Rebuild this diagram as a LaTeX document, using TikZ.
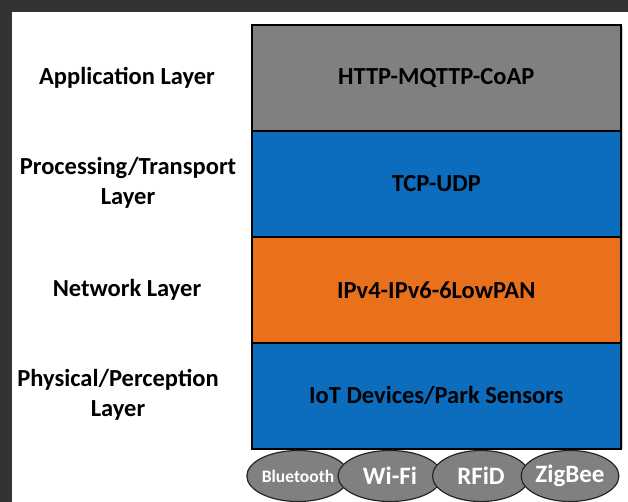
\documentclass[tikz,border=0pt]{standalone}
\usepackage{fontspec}
\setmainfont{Carlito}
\usetikzlibrary{shapes.geometric}
\definecolor{frame}{RGB}{52,50,52}
\definecolor{laygray}{RGB}{128,128,128}
\definecolor{layblue}{RGB}{12,108,189}
\definecolor{layorange}{RGB}{234,113,28}
\begin{document}
\begin{tikzpicture}[x=1pt,y=-1pt,
  layerbox/.style={draw=black,line width=1.6pt,minimum width=369pt,minimum height=106pt,inner sep=0pt,anchor=north west,font=\bfseries\fontsize{24.5}{28}\selectfont,text=black},
  sidelabel/.style={font=\bfseries\fontsize{24.5}{30}\selectfont,align=center,text=black,inner sep=0pt},
  tech/.style={ellipse,draw=black!85,line width=1.2pt,fill=laygray,minimum width=97pt,minimum height=51pt,inner sep=0pt,text=white,font=\bfseries\fontsize{25}{27}\selectfont}]
\useasboundingbox (0,0) rectangle (628,502);
\fill[white] (0,0) rectangle (628,502);
\fill[frame] (0,0) rectangle (628,12);
\fill[frame] (0,0) rectangle (12,502);
% shadow
\fill[black!20] (253,26) rectangle (623,449);
% layers
\node[layerbox,fill=laygray] (app) at (251,24) {HTTP-MQTTP-CoAP};
\node[layerbox,fill=layblue] (tcp) at (251,130) {TCP-UDP};
\node[layerbox,fill=layorange] (net) at (251,236) {IPv4-IPv6-6LowPAN};
\node[layerbox,fill=layblue] (phy) at (251,342) {IoT Devices/Park Sensors};
% labels
\node[sidelabel] (lapp) at (127,78) {Application Layer};
\node[sidelabel] (ltcp) at (128,183) {Processing/Transport\\Layer};
\node[sidelabel] (lnet) at (127,290) {Network Layer};
\node[sidelabel] (lphy) at (118,395) {Physical/Perception\\Layer};
% technologies
\node[tech,font=\bfseries\fontsize{17.5}{19}\selectfont] (bt) at (298,476) {Bluetooth};
\node[tech,minimum width=104pt] (wifi) at (390,476) {Wi-Fi};
\node[tech] (rfid) at (481,476) {RFiD};
\node[tech] (zig) at (570,476) {ZigBee};
\end{tikzpicture}
\end{document}
